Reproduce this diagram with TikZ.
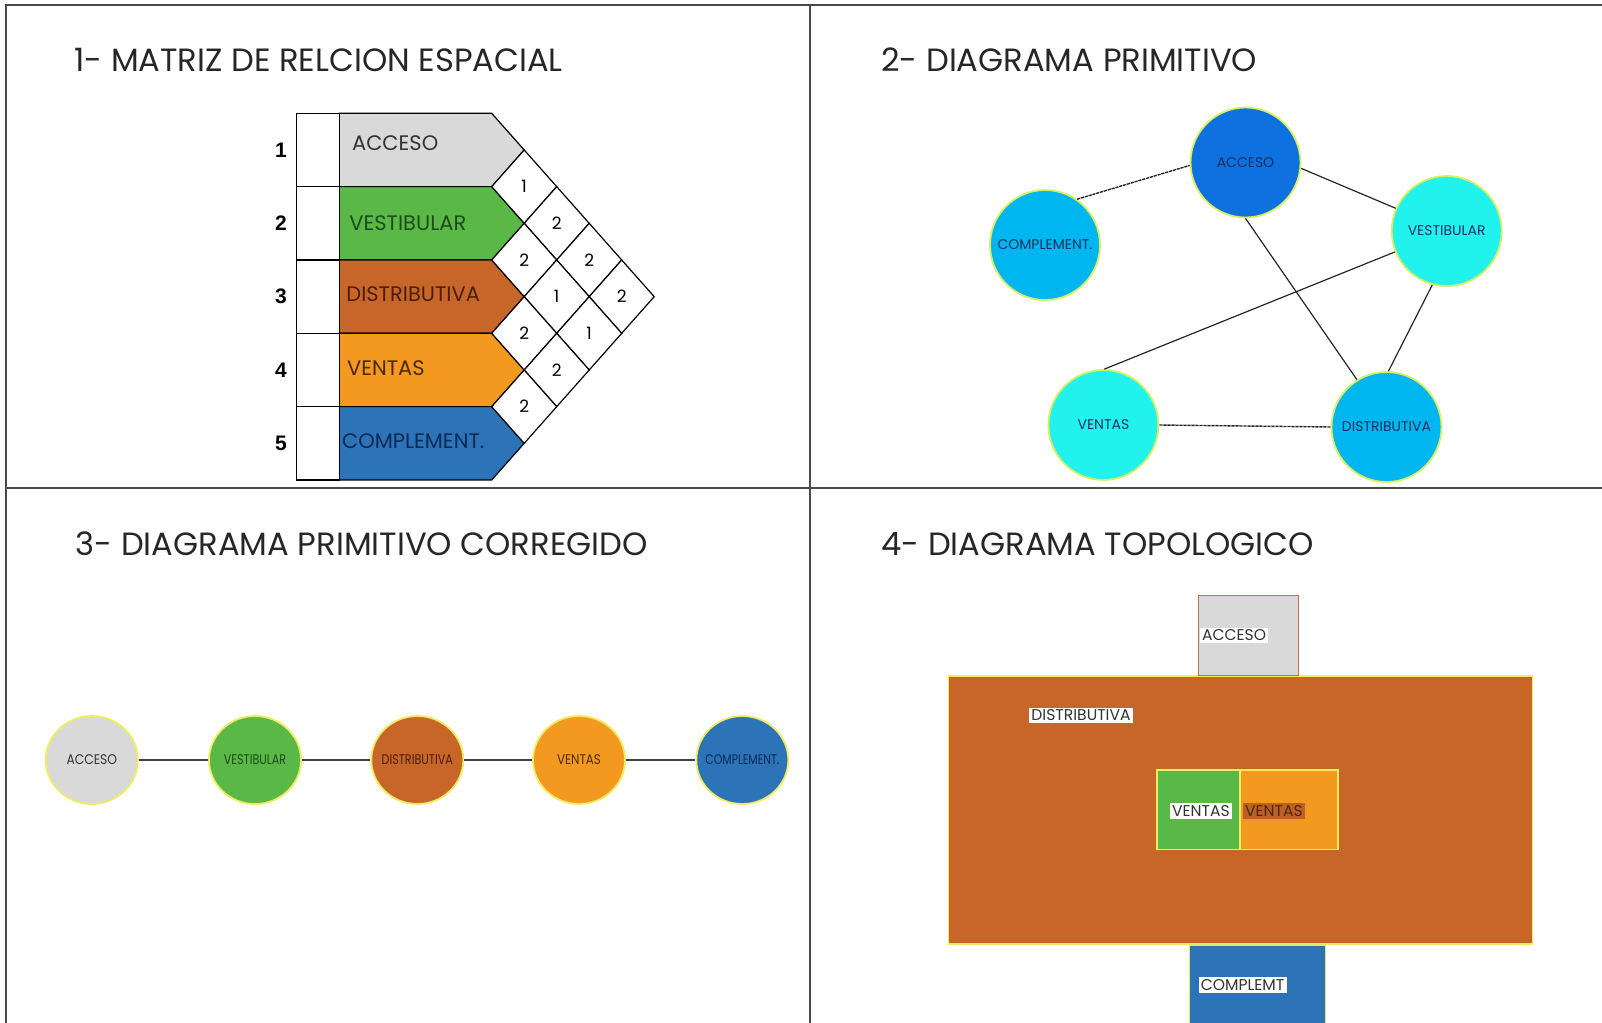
\documentclass[tikz,border=0pt]{standalone}
\usepackage{fontspec}
\setmainfont{Poppins}
\newfontfamily\arialfont{Liberation Sans}
\usetikzlibrary{shapes.geometric}
\definecolor{framecol}{HTML}{4A4A4A}
\definecolor{accgray}{HTML}{D9D9D9}
\definecolor{vestgreen}{HTML}{5AB946}
\definecolor{distor}{HTML}{C8662A}
\definecolor{ventor}{HTML}{F4991F}
\definecolor{compblue}{HTML}{2C73B8}
\definecolor{accblue}{HTML}{0F70E0}
\definecolor{cyanc}{HTML}{22F2EE}
\definecolor{skyc}{HTML}{00B6F0}
\definecolor{glowc}{HTML}{D6F060}
\definecolor{glowy}{HTML}{F0EC60}
\definecolor{acctext}{HTML}{333333}
\definecolor{vesttext}{HTML}{1E4A1E}
\definecolor{disttext}{HTML}{4A1E08}
\definecolor{venttext}{HTML}{4A2A05}
\definecolor{comptext}{HTML}{0C2A55}
\definecolor{navytext}{HTML}{12325E}
\definecolor{accborder}{HTML}{C07050}
\definecolor{labbrown}{HTML}{BF5F28}
\begin{document}
\begin{tikzpicture}[x=0.5pt,y=-0.5pt,
  frameline/.style={draw=framecol,line width=1pt},
  titletext/.style={anchor=base west,inner sep=0,text=black!85,font=\fontsize{16.1}{19}\selectfont},
  rownum/.style={inner sep=0,font=\arialfont\bfseries\fontsize{10.5}{12}\selectfont},
  rowlab/.style={anchor=west,inner sep=0,font=\fontsize{10.5}{12}\selectfont},
  cellnum/.style={inner sep=0,font=\fontsize{8.5}{10}\selectfont},
  outl/.style={draw=black,line width=0.6pt},
  circ2/.style={circle,minimum size=55pt,inner sep=0,draw=glowc,line width=0.9pt,text=navytext,font=\fontsize{7}{8}\selectfont},
  edge2/.style={draw=black!85,line width=0.6pt},
  dedge2/.style={draw=black!85,line width=0.7pt,dash pattern=on 1.6pt off 0.4pt},
  circ3/.style={ellipse,minimum width=46pt,minimum height=44pt,inner sep=0,draw=glowy,line width=0.9pt,font=\fontsize{7}{8}\selectfont},
  edge3/.style={draw=black!75,line width=0.7pt},
  zone/.style={rectangle,inner sep=0,anchor=north west},
  tag/.style={rectangle,fill=white,inner sep=1.2pt,text=acctext,font=\fontsize{7.8}{9}\selectfont}
]
\useasboundingbox (0,0) rectangle (1602,1023);
% frame
\draw[frameline] (6,1025) -- (6,4.5) -- (1602,4.5);
\draw[frameline] (810,4.5) -- (810,1025);
\draw[frameline] (6,488) -- (1602,488);
% titles
\node[titletext] (t1) at (74,71) {1- MATRIZ DE RELCION ESPACIAL};
\node[titletext] (t2) at (881,71) {2- DIAGRAMA PRIMITIVO};
\node[titletext] (t3) at (75.5,555) {3- DIAGRAMA PRIMITIVO CORREGIDO};
\node[titletext] (t4) at (881,555) {4- DIAGRAMA TOPOLOGICO};
% ---------- 1: matrix
\foreach \i/\lab/\fc/\tc/\lx/\dy in {1/ACCESO/accgray/acctext/351.7/-7,2/VESTIBULAR/vestgreen/vesttext/349/0,3/DISTRIBUTIVA/distor/disttext/346/-2,4/VENTAS/ventor/venttext/346.7/-2,5/COMPLEMENT./compblue/comptext/341.7/-2}{
  \pgfmathsetmacro\yt{113.3+73.33*(\i-1)}
  \pgfmathsetmacro\yb{\yt+73.33}
  \pgfmathsetmacro\ym{\yt+36.67}
  \draw[outl,fill=\fc] (339.3,\yt) -- (491.7,\yt) -- (524.2,\ym) -- (491.7,\yb) -- (339.3,\yb) -- cycle;
  \draw[outl,fill=white] (296.7,\yt) rectangle (339.3,\yb);
  \node[rownum] (num\i) at (281,\ym) {\i};
  \node[rowlab,text=\tc] (row\i) at (\lx,\ym+\dy) {\lab};
}
\foreach \i/\j/\v in {1/2/1,1/3/2,1/4/2,1/5/2,2/3/2,2/4/1,2/5/1,3/4/2,3/5/2,4/5/2}{
  \pgfmathsetmacro\cx{491.7+32.5*(\j-\i)}
  \pgfmathsetmacro\cy{113.3+36.67*(\i+\j-1)}
  \draw[outl,fill=white] (\cx-32.5,\cy) -- (\cx,\cy-36.67) -- (\cx+32.5,\cy) -- (\cx,\cy+36.67) -- cycle;
  \node[cellnum] (cell\i\j) at (\cx,\cy) {\v};
}
% ---------- 2: primitive diagram
\node[circ2,fill=accblue] (pacc) at (1245.5,162.5) {ACCESO};
\node[circ2,fill=skyc] (pcomp) at (1045,245) {COMPLEMENT.};
\node[circ2,fill=cyanc] (pvest) at (1446.7,231) {VESTIBULAR};
\node[circ2,fill=cyanc] (pvent) at (1103.4,425) {VENTAS};
\node[circ2,fill=skyc] (pdist) at (1386.5,427) {DISTRIBUTIVA};
\draw[dedge2] (pcomp.55) -- (pacc.183);
\draw[edge2] (pacc.354) -- (pvest.156);
\draw[edge2] (pacc.270) -- (pdist.122);
\draw[edge2] (pvest.202) -- (pvent.89);
\draw[edge2] (pvest.255) -- (pdist.88);
\draw[dedge2] (pvent.east) -- (pdist.west);
% ---------- 3: corrected diagram
\node[circ3,fill=accgray,text=acctext] (cacc) at (91.8,760) {\makebox[0pt]{\scalebox{0.88}[1]{ACCESO}}};
\node[circ3,fill=vestgreen,text=vesttext] (cvest) at (255,760) {\makebox[0pt]{\scalebox{0.8}[1]{VESTIBULAR}}};
\node[circ3,fill=distor,text=disttext] (cdist) at (417.3,760) {\makebox[0pt]{\scalebox{0.8}[1]{DISTRIBUTIVA}}};
\node[circ3,fill=ventor,text=venttext] (cvent) at (579,760) {\makebox[0pt]{\scalebox{0.85}[1]{VENTAS}}};
\node[circ3,fill=compblue,text=comptext] (ccomp) at (742.3,760) {\makebox[0pt]{\scalebox{0.78}[1]{COMPLEMENT.}}};
\draw[edge3] (cacc) -- (cvest);
\draw[edge3] (cvest) -- (cdist);
\draw[edge3] (cdist) -- (cvent);
\draw[edge3] (cvent) -- (ccomp);
% ---------- 4: topological diagram
\node[zone,fill=distor,draw=glowy,line width=0.8pt,minimum width=291.9pt,minimum height=134.15pt] (zdist) at (947.8,675) {};
\node[zone,fill=accgray,draw=accborder,line width=0.6pt,minimum width=49.8pt,minimum height=40pt] (zacc) at (1198,595) {};
\node[zone,fill=vestgreen,draw=glowy,line width=0.8pt,minimum width=41.5pt,minimum height=39.7pt] (zvg) at (1156,769.3) {};
\node[zone,fill=ventor,draw=glowy,line width=0.8pt,minimum width=49pt,minimum height=39.7pt] (zvo) at (1239,769.3) {};
\node[zone,fill=compblue,draw=glowc,line width=0.6pt,minimum width=68pt,minimum height=41pt] (zcomp) at (1189,944.3) {};
\node[tag] (lacc) at (1234,635.5) {ACCESO};
\node[tag] (ldist) at (1081,715.5) {DISTRIBUTIVA};
\node[tag] (lvg) at (1201,811) {VENTAS};
\node[tag,fill=labbrown,text=venttext] (lvo) at (1274,811) {VENTAS};
\node[tag] (lcomp) at (1242.6,985) {COMPLEMT};
\end{tikzpicture}
\end{document}
